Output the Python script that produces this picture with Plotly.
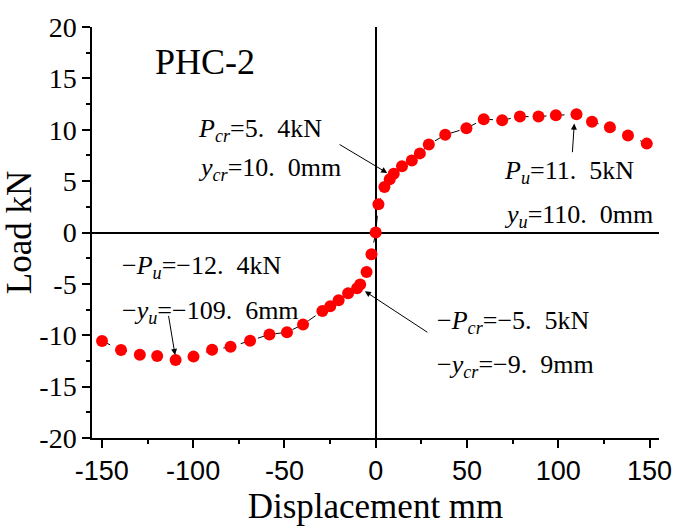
import plotly.graph_objects as go

# Displacement (mm) and load (kN)
disp = [-149.9, -139.5, -129.2, -119.7, -109.6, -99.8, -89.6, -79.5, -68.8, -58.2,
        -48.6, -39.8, -29.2, -24.9, -20.3, -15.1, -10.2, -8.5, -5.0, -2.3, 0.0,
        1.5, 4.8, 7.7, 9.9, 14.4, 19.8, 24.2, 29.1, 38.1, 49.7, 59.2, 69.3, 79.0,
        89.2, 98.7, 110.0, 118.5, 128.3, 138.2, 148.5]
load = [-10.56, -11.44, -11.89, -12.01, -12.4, -12.08, -11.42, -11.13, -10.53, -9.92,
        -9.71, -8.95, -7.64, -7.17, -6.60, -5.91, -5.43, -5.05, -3.85, -2.11, 0.0,
        2.74, 4.42, 5.18, 5.71, 6.44, 7.0, 7.70, 8.56, 9.51, 10.14, 11.03, 10.93, 11.28,
        11.28, 11.41, 11.5, 10.78, 10.24, 9.45, 8.65]

x_ticks = [-150, -100, -50, 0, 50, 100, 150]
y_ticks = [-20, -15, -10, -5, 0, 5, 10, 15, 20]

title_text = "PHC-2"
labels = [
    ("<i>P</i><sub><i>cr</i></sub>=5.  4kN", -98.2, 10.0),
    ("<i>y</i><sub><i>cr</i></sub>=10.  0mm", -98.2, 6.2),
    ("<i>P</i><sub><i>u</i></sub>=11.  5kN", 69.4, 5.9),
    ("<i>y</i><sub><i>u</i></sub>=110.  0mm", 69.4, 1.6),
    ("−<i>P</i><sub><i>u</i></sub>=−12.  4kN", -140.2, -3.4),
    ("−<i>y</i><sub><i>u</i></sub>=−109.  6mm", -140.2, -7.7),
    ("−<i>P</i><sub><i>cr</i></sub>=−5.  5kN", 32.7, -8.7),
    ("−<i>y</i><sub><i>cr</i></sub>=−9.  9mm", 32.7, -13.0),
]
# arrows: (head_x, head_y, tail_x, tail_y)
arrows = [
    (6.3, 5.8, -20.6, 8.65),
    (108.8, 10.6, 107.7, 7.67),
    (-109.9, -11.92, -113.6, -7.97),
    (-5.9, -5.72, 29.1, -9.8),
]

fig = go.Figure()
fig.add_trace(go.Scatter(
    x=disp, y=load, mode="lines+markers",
    line=dict(color="black", width=1, dash="dash"),
    marker=dict(color="#ff0000", size=12, line=dict(width=0)),
    showlegend=False,
))

serif = "Liberation Serif"
annotations = [dict(x=-121.9, y=16.6, text=title_text, showarrow=False,
                    xanchor="left", yanchor="middle",
                    font=dict(family=serif, size=36, color="black"))]
for t, x, y in labels:
    annotations.append(dict(x=x, y=y, text=t, showarrow=False, xanchor="left",
                            yanchor="middle",
                            font=dict(family=serif, size=26, color="black")))
for hx, hy, tx, ty in arrows:
    annotations.append(dict(x=hx, y=hy, ax=tx, ay=ty, xref="x", yref="y",
                            axref="x", ayref="y", text="", showarrow=True,
                            arrowhead=2, arrowsize=1.2, arrowwidth=1,
                            arrowcolor="black"))

fig.update_layout(
    width=684, height=531,
    margin=dict(l=92, r=16, t=22, b=89),
    paper_bgcolor="white", plot_bgcolor="white",
    annotations=annotations,
    xaxis=dict(
        range=[-155.4, 155.2], tickvals=x_ticks,
        ticktext=[str(v) for v in x_ticks],
        showgrid=False, zeroline=True, zerolinecolor="black", zerolinewidth=1.5,
        showline=True, linecolor="black", linewidth=1.5,
        ticks="outside", ticklen=8, tickwidth=1.5, tickcolor="black",
        minor=dict(ticks="outside", ticklen=4, tickwidth=1.5, dtick=25,
                   tick0=-150, tickcolor="black", showgrid=False),
        tickfont=dict(family="Liberation Sans", size=27, color="black"),
        title=dict(text="Displacement mm", standoff=8,
                   font=dict(family=serif, size=35, color="black")),
    ),
    yaxis=dict(
        range=[-20, 20], tickvals=y_ticks,
        ticktext=[str(v) for v in y_ticks],
        showgrid=False, zeroline=True, zerolinecolor="black", zerolinewidth=1.5,
        showline=True, linecolor="black", linewidth=1.5,
        ticks="outside", ticklen=8, tickwidth=1.5, tickcolor="black",
        minor=dict(ticks="outside", ticklen=4, tickwidth=1.5, dtick=2.5,
                   tick0=-20, tickcolor="black", showgrid=False),
        tickfont=dict(family=serif, size=28, color="black"),
        title=dict(text="Load kN", standoff=0,
                   font=dict(family=serif, size=35, color="black")),
    ),
)

fig.write_html("out.html")
